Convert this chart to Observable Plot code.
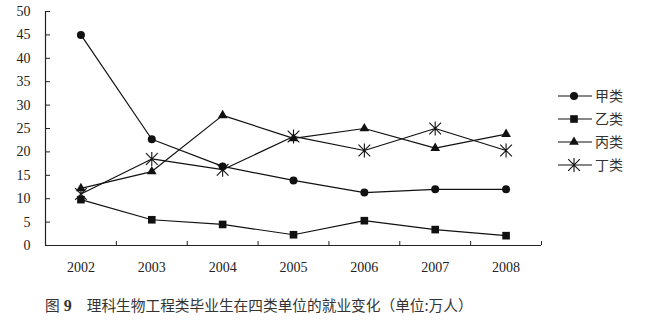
<!DOCTYPE html>
<html><head><meta charset="utf-8">
<script src="https://cdn.jsdelivr.net/npm/d3@7"></script>
<script src="https://cdn.jsdelivr.net/npm/@observablehq/plot@0.6"></script>
<style>
body{margin:0;background:#fff;}
#wrap{position:relative;width:646px;height:321px;overflow:hidden;}
#legend{position:absolute;left:550px;top:84px;}
#caption{position:absolute;left:45px;top:295px;font-family:"Noto Sans CJK SC",sans-serif;font-size:14.7px;line-height:20px;color:#333;white-space:pre;}
#caption b{font-family:"Liberation Serif",serif;font-size:16px;margin-left:4px;margin-right:15px;}
</style></head><body>
<div id="wrap"><div id="chart"></div><div id="legend"></div><div id="caption"></div></div>
<script>
const years = [2002, 2003, 2004, 2005, 2006, 2007, 2008];
const seriesNames = ["甲类", "乙类", "丙类", "丁类"];
const jia  = [45.0, 22.7, 16.9, 13.9, 11.3, 12.0, 12.0];
const yi   = [9.8, 5.5, 4.5, 2.3, 5.3, 3.4, 2.1];
const bing = [12.2, 15.8, 27.8, 22.9, 25.0, 20.8, 23.8];
const ding = [11.0, 18.5, 16.2, 23.3, 20.3, 25.0, 20.3];
const yTicks = [0, 5, 10, 15, 20, 25, 30, 35, 40, 45, 50];
const captionLabel = "图";
const captionNum = "9";
const captionText = "理科生物工程类毕业生在四类单位的就业变化（单位:万人）";

const seriesValues = [jia, yi, bing, ding];
const rows = seriesNames.flatMap((s, k) => years.map((yr, i) => ({series: s, year: yr, value: seriesValues[k][i]})));

const starSymbol = {draw(ctx, size) {
  const s = Math.sqrt(size / Math.PI);
  const v = s * 1.55, d = s * 1.3;
  ctx.moveTo(0, -v); ctx.lineTo(0, v);
  ctx.moveTo(-d, -d); ctx.lineTo(d, d);
  ctx.moveTo(-d, d); ctx.lineTo(d, -d);
}};
const styles = [
  {symbol: d3.symbolCircle, r: 4, fill: "#111", stroke: "none"},
  {symbol: d3.symbolSquare, r: 4.3, fill: "#111", stroke: "none"},
  {symbol: d3.symbolTriangle, r: 3.6, fill: "#111", stroke: "none"},
  {symbol: starSymbol, r: 4.5, fill: "none", stroke: "#111"}
];

const bounds = d3.range(years.length + 1).map(i => years[0] - 0.5 + i);

const chart = Plot.plot({
  width: 646, height: 290,
  marginLeft: 45, marginRight: 105, marginTop: 11, marginBottom: 45,
  style: {fontFamily: "'Liberation Serif', serif", fontSize: "14px", color: "#111", background: "white"},
  x: {type: "linear", domain: [bounds[0], bounds[bounds.length - 1]], label: null},
  y: {domain: [0, 50], label: null},
  marks: [
    Plot.ruleX([bounds[0]], {stroke: "#222", strokeWidth: 1.2}),
    Plot.ruleY([0], {stroke: "#222", strokeWidth: 1.2}),
    Plot.axisX({ticks: bounds, tickSize: -4, tickFormat: () => "", label: null, stroke: "#222"}),
    Plot.axisX({ticks: years, tickSize: 0, tickPadding: 17, tickFormat: d => String(d), label: null, fill: "#222"}),
    Plot.axisY({ticks: yTicks, tickSize: -5, tickFormat: () => "", label: null, stroke: "#222"}),
    Plot.axisY({ticks: yTicks, tickSize: 0, tickPadding: 15, label: null, fill: "#222"}),
    Plot.line(rows, {x: "year", y: "value", z: "series", stroke: "#111", strokeWidth: 1.2}),
    ...seriesNames.map((s, k) => Plot.dot(rows.filter(d => d.series === s), {
      x: "year", y: "value", symbol: styles[k].symbol, r: styles[k].r,
      fill: styles[k].fill, stroke: styles[k].stroke, strokeWidth: 1.1
    }))
  ]
});
document.getElementById("chart").appendChild(chart);

// legend
const leg = d3.select("#legend").append("svg").attr("width", 96).attr("height", 100)
  .style("font-family", "'Noto Sans CJK SC', sans-serif").style("font-size", "14px");
seriesNames.forEach((s, k) => {
  const g = leg.append("g").attr("transform", `translate(0,${12 + k * 23})`);
  g.append("line").attr("x1", 8).attr("x2", 42).attr("stroke", "#111").attr("stroke-width", 1.2);
  const sz = Math.PI * styles[k].r * styles[k].r;
  g.append("path").attr("transform", "translate(24,0)").attr("d", d3.symbol(styles[k].symbol, sz)())
    .attr("fill", styles[k].fill).attr("stroke", styles[k].stroke).attr("stroke-width", 1.1);
  g.append("text").attr("x", 45).attr("dy", "0.35em").attr("fill", "#333").text(s);
});

const cap = document.getElementById("caption");
cap.innerHTML = `${captionLabel}<b>${captionNum}</b>${captionText}`;
</script>
</body></html>
